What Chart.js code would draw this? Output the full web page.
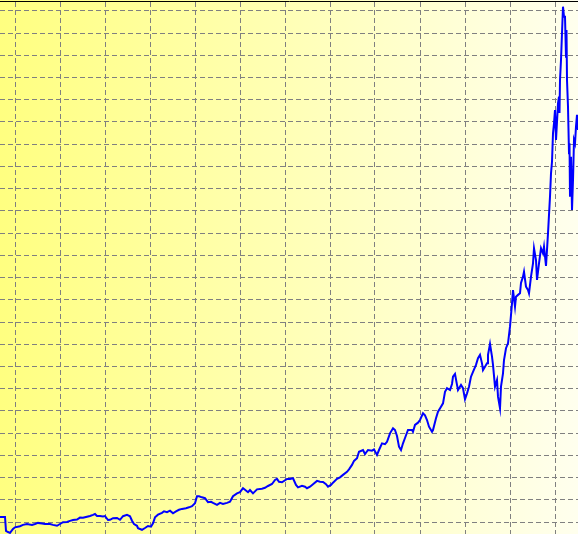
<!DOCTYPE html>
<html>
<head>
<meta charset="utf-8">
<script src="https://cdn.jsdelivr.net/npm/chart.js@4"></script>
<style>
  html, body { margin: 0; padding: 0; background: #ffffff; }
  #wrap { width: 578px; height: 534px; position: relative;
          background: linear-gradient(to right, #ffff80 0%, #ffffb6 50%, #ffffee 100%); }
</style>
</head>
<body>
<div id="wrap"><canvas id="c"></canvas></div>
<script>
// Trade number (x) and balance (y)
const trades = [0,5,6,8,10,13,15,20,23,27,32,35,38,42,45,50,53,57,60,63,67,70,73,77,80,83,87,90,93,95,97,100,103,105,108,110,113,117,120,123,127,130,132,134,137,138,142,145,148,151,153,155,158,162,164,167,170,173,176,179,182,186,189,192,195,197,199,202,205,208,211,213,217,220,223,227,230,233,237,240,243,245,248,250,253,257,262,265,268,272,275,277,279,282,287,290,293,296,298,302,305,307,310,313,317,320,323,326,328,331,333,337,340,343,347,349,352,354,357,359,363,365,368,372,374,377,379,382,385,387,390,393,395,397,399,401,403,405,408,412,413,415,418,420,423,425,427,429,432,433,436,438,441,443,445,447,450,452,453,455,457,458,461,463,465,467,469,471,473,476,478,480,482,483,485,487,488,490,492,493,495,497,498,500,501,503,504,506,508,510,512,513,515,516,518,520,521,523,524,526,528,529,531,533,534,536,537,539,541,543,544,546,548,549,550,551,552,553,554,555,556,557,558,559,559.5,560,561,562,563,564,565,566,566.5,567,568,569,569.5,570,571,572,573,574,575,576,577,578];
const balance = [1023,1023,960,955,951,969,976,981,987,991,987,991,996,993,991,991,987,983,991,999,1000,1005,1009,1011,1020,1019,1024,1027,1032,1036,1027,1027,1025,1027,1009,1010,1017,1018,1010,1026,1032,1026,1006,991,983,972,965,973,982,979,994,1021,1033,1041,1048,1044,1051,1039,1048,1055,1059,1062,1066,1071,1084,1116,1116,1111,1107,1089,1091,1086,1077,1086,1081,1086,1091,1116,1129,1134,1152,1145,1134,1144,1129,1147,1150,1154,1162,1171,1189,1194,1181,1179,1194,1194,1197,1167,1156,1163,1159,1152,1159,1170,1185,1181,1180,1170,1159,1167,1177,1194,1201,1212,1226,1237,1257,1275,1287,1316,1324,1306,1324,1321,1327,1302,1324,1354,1350,1361,1399,1422,1414,1387,1339,1324,1354,1378,1414,1414,1406,1437,1447,1459,1489,1480,1459,1429,1406,1414,1467,1496,1519,1534,1586,1602,1594,1621,1654,1666,1617,1594,1617,1602,1552,1579,1609,1654,1676,1707,1737,1752,1714,1684,1699,1714,1752,1801,1744,1707,1609,1639,1564,1512,1609,1669,1729,1782,1804,1879,1984,2044,1969,2014,2022,2029,2076,2104,2126,2059,2044,2029,2104,2164,2232,2179,2089,2164,2232,2209,2239,2152,2299,2382,2464,2569,2621,2749,2794,2854,2719,2801,2884,2914,2841,2989,3079,3199,3319,3274,3274,3094,3214,2989,2869,2659,2704,2464,2644,2404,2539,2719,2704,2779,2832,2764];
// Grid positions: vertical (trade numbers) and horizontal (balance levels)
const xGridTicks = [15,60,105,150,195,240,285,330,375,420,465,510,555];
const yGridTicks = [1000,1100,1200,1300,1400,1500,1600,1700,1800,1900,2000,2100,2200,2300,2400,2500,2600,2700,2800,2900,3000,3100,3200,3300];
const yMin = 946, yMax = 3344.5;
const xMin = 0, xMax = 578;

const points = trades.map((t, i) => ({ x: t, y: balance[i] }));
const gridStyle = { color: '#808080', lineWidth: 1, drawTicks: false };

new Chart(document.getElementById('c'), {
  type: 'line',
  data: { datasets: [{
    data: points,
    borderColor: '#0000ff',
    borderWidth: 2,
    pointRadius: 0,
    tension: 0,
    fill: false
  }]},
  options: {
    responsive: true,
    maintainAspectRatio: false,
    animation: false,
    layout: { padding: { top: 1, left: 0, right: 0, bottom: 0 } },
    plugins: { legend: { display: false }, tooltip: { enabled: false } },
    scales: {
      x: {
        type: 'linear', position: 'top', min: xMin, max: xMax,
        afterBuildTicks: (s) => { s.ticks = xGridTicks.map(v => ({ value: v })); },
        ticks: { display: false },
        grid: gridStyle,
        border: { display: true, color: '#000000', width: 1, dash: [5, 3] }
      },
      y: {
        type: 'linear', min: yMin, max: yMax,
        afterBuildTicks: (s) => { s.ticks = yGridTicks.map(v => ({ value: v })); },
        ticks: { display: false },
        grid: gridStyle,
        border: { display: false, dash: [5, 3] }
      }
    }
  }
});
</script>
</body>
</html>
